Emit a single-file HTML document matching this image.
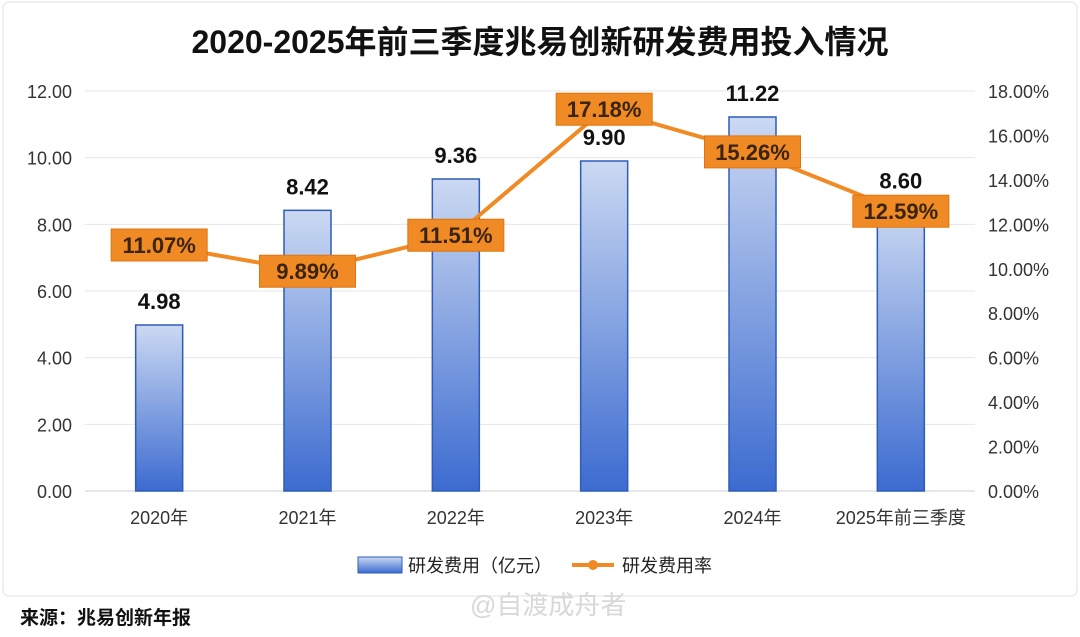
<!DOCTYPE html>
<html><head><meta charset="utf-8">
<style>
body{margin:0;background:#fff;font-family:"Liberation Sans","Noto Sans CJK SC",sans-serif;}
svg text{font-family:"Liberation Sans","Noto Sans CJK SC",sans-serif;}
</style></head>
<body>
<svg id="chart" width="1080" height="632" viewBox="0 0 1080 632" xmlns="http://www.w3.org/2000/svg">
<defs>
<linearGradient id="barg" x1="0" y1="0" x2="0" y2="1">
<stop offset="0" stop-color="#cbd9f2"/>
<stop offset="1" stop-color="#3c6bd0"/>
</linearGradient>
</defs>
<rect x="3" y="2" width="1074" height="594" rx="6" fill="#fff" stroke="#e2e2e2"/>
<text x="540" y="53" text-anchor="middle" font-size="32" font-weight="bold" fill="#111">2020-2025年前三季度兆易创新研发费用投入情况</text>
<g id="grid"></g>
<g id="bars"></g>
<g id="line"></g>
<g id="labels"></g>
<g>
<rect x="358" y="557" width="44" height="16" fill="url(#barg)" stroke="#2e5cb8"/>
<text x="408" y="572" font-size="18" fill="#222">研发费用（亿元）</text>
<line x1="572" y1="565" x2="614" y2="565" stroke="#f08a24" stroke-width="4"/>
<circle cx="593" cy="565" r="5" fill="#f08a24"/>
<text x="622" y="572" font-size="18" fill="#222">研发费用率</text>
</g>
<text x="20" y="624" font-size="19" font-weight="bold" fill="#111">来源：兆易创新年报</text>
<text x="470" y="614" font-size="26" fill="#d8d8d8">@自渡成舟者</text>
</svg>
<script>
const categories=["2020年","2021年","2022年","2023年","2024年","2025年前三季度"];
const spend=[4.98,8.42,9.36,9.90,11.22,8.60];
const rate=[11.07,9.89,11.51,17.18,15.26,12.59];
const leftTicks=[0,2,4,6,8,10,12];
const rightTicks=[0,2,4,6,8,10,12,14,16,18];
const NS="http://www.w3.org/2000/svg";
const X0=85,X1=975,Y0=491,Y1=91;
const band=(X1-X0)/categories.length;
const xc=i=>X0+band*(i+0.5);
const yL=v=>Y0-(v/12)*(Y0-Y1);
const yR=v=>Y0-(v/18)*(Y0-Y1);
function mk(tag,attrs,parent,txt){const e=document.createElementNS(NS,tag);for(const k in attrs)e.setAttribute(k,attrs[k]);if(txt!==undefined)e.textContent=txt;parent.appendChild(e);return e;}
const grid=document.getElementById('grid');
leftTicks.forEach(t=>{
  mk('line',{x1:X0,x2:X1,y1:yL(t),y2:yL(t),stroke:t===0?'#cfcfcf':'#e6e6e6','stroke-width':1},grid);
  const e=mk('text',{x:72,y:yL(t)+7,'text-anchor':'end','font-size':18,fill:'#333'},grid,t.toFixed(2));
  
  
});
rightTicks.forEach(t=>{
  const e=mk('text',{x:988,y:yR(t)+7,'font-size':18,fill:'#333'},grid,t.toFixed(2)+'%');
  
  
});
categories.forEach((c,i)=>{
  const e=mk('text',{x:xc(i),y:524,'text-anchor':'middle','font-size':18,fill:'#333'},grid,c);
  
  
});
const bars=document.getElementById('bars');
const BW=47;
spend.forEach((v,i)=>{
  const r=mk('rect',{x:xc(i)-BW/2,y:yL(v),width:BW,height:Y0-yL(v),fill:'url(#barg)',stroke:'#2e5cb8','stroke-width':1.5},bars);
  
  
  const t=mk('text',{x:xc(i),y:yL(v)-16,'text-anchor':'middle','font-size':22,'font-weight':'bold',fill:'#111'},bars,v.toFixed(2));
  
  
});
const line=document.getElementById('line');
const pts=rate.map((v,i)=>xc(i)+','+yR(v)).join(' ');
const pl=mk('polyline',{points:pts,fill:'none',stroke:'#f08a24','stroke-width':4},line);


const labels=document.getElementById('labels');
rate.forEach((v,i)=>{
  const cx=xc(i),cy=yR(v);
  const b=mk('rect',{x:cx-48,y:cy-16,width:96,height:32,fill:'#f08a24',stroke:'#e07410'},labels);
  
  
  const t=mk('text',{x:cx,y:cy+8,'text-anchor':'middle','font-size':22,'font-weight':'bold',fill:'#3a2410'},labels,v.toFixed(2)+'%');
  
  
});
</script>
</body></html>
